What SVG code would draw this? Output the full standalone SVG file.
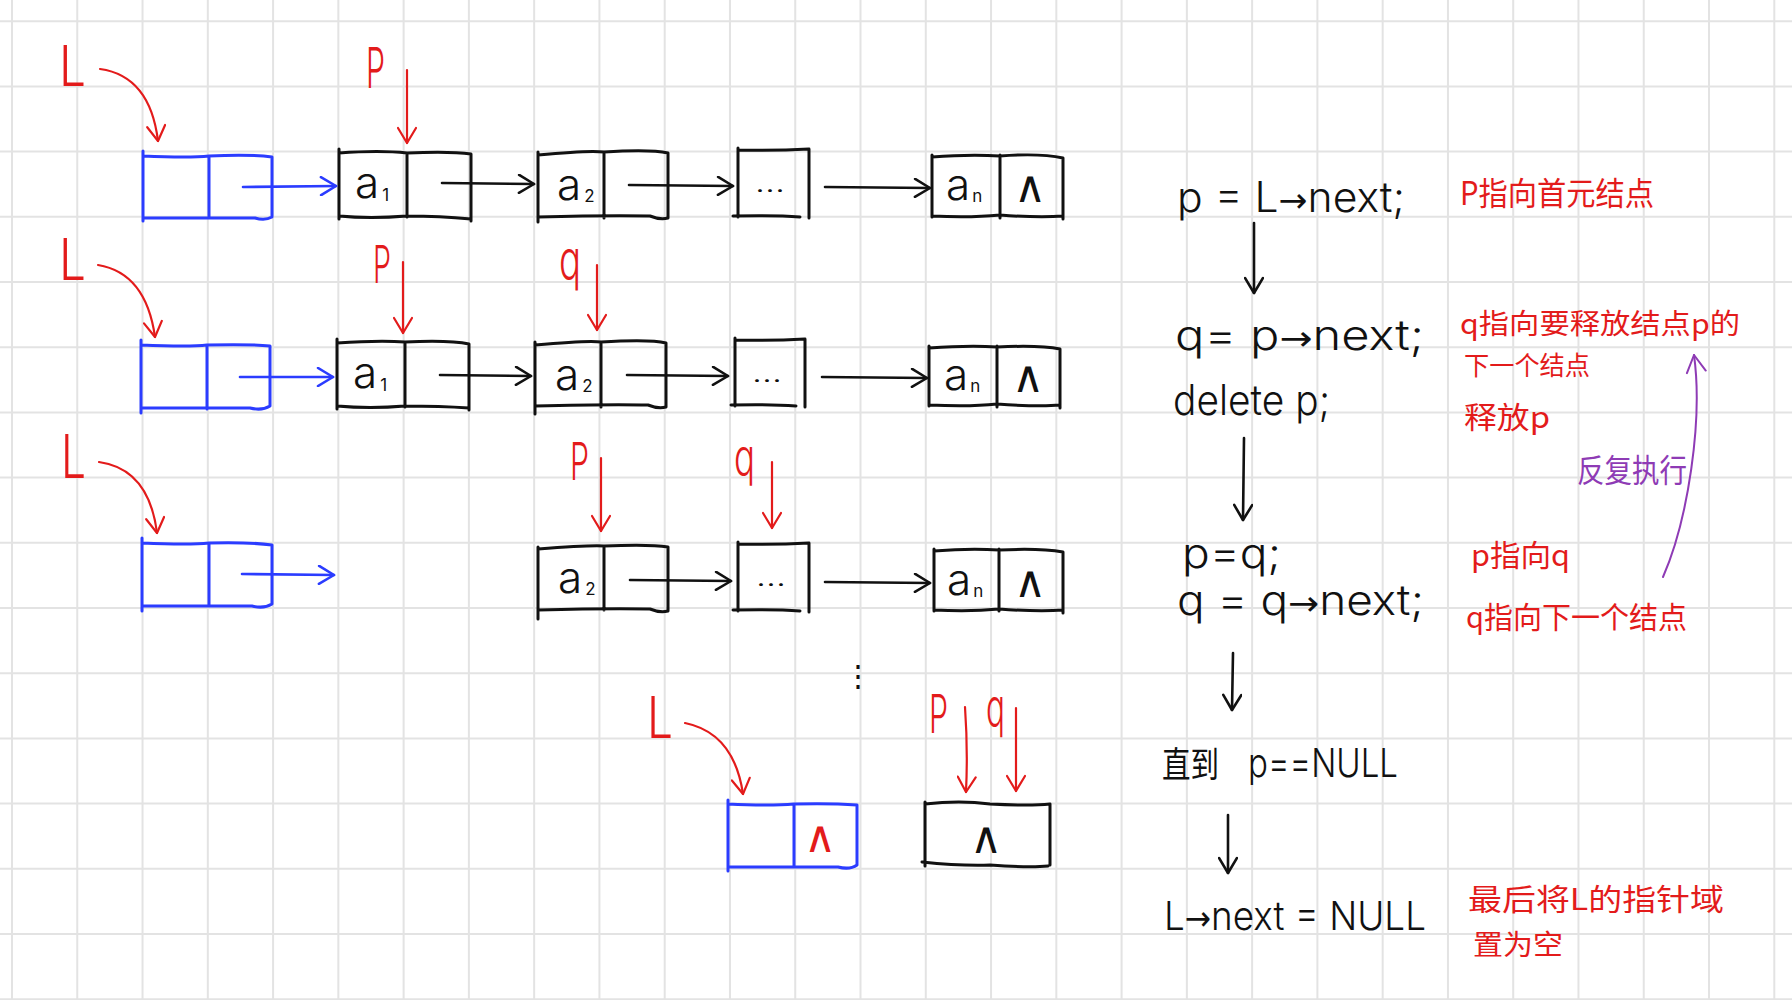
<svg xmlns="http://www.w3.org/2000/svg" width="1792" height="1000" viewBox="0 0 1792 1000">
<style>
.grid{stroke:#e3e3e3;stroke-width:2;fill:none}
.nb{stroke:#111;stroke-width:3;fill:none;stroke-linecap:round;stroke-linejoin:round}
.nbl{stroke:#2b3cff;stroke-width:3;fill:none;stroke-linecap:round;stroke-linejoin:round}
.cb{stroke:#111;stroke-width:2.6;fill:none;stroke-linecap:round;marker-end:url(#ab)}
.cbl{stroke:#2b3cff;stroke-width:2.6;fill:none;stroke-linecap:round;marker-end:url(#abl)}
.cr{stroke:#e31b1b;stroke-width:2.2;fill:none;stroke-linecap:round;marker-end:url(#ar)}
.cp{stroke:#8e3bb5;stroke-width:2;fill:none;stroke-linecap:round;marker-end:url(#ap)}
.hw{font-family:"Inter","Open Sans","Liberation Sans","Noto Sans CJK SC",sans-serif;font-weight:300}
.cjk{font-family:"Noto Sans CJK SC","Liberation Sans",sans-serif;font-weight:400}
.sym{font-family:"DejaVu Sans",sans-serif;font-weight:200}
.ar{font-family:"DejaVu Sans",sans-serif;font-weight:400;font-size:34px}
.blk{fill:#111}
.red{fill:#e31b1b}
.pur{fill:#8e3bb5}
.nt{font-family:"Inter","Open Sans","Liberation Sans",sans-serif;font-weight:300;font-size:44px;fill:#111}
.sub{font-size:17px;font-weight:400}
</style>
<defs>
<marker id="ab" viewBox="0 0 20 20" refX="17" refY="10" markerWidth="20" markerHeight="20" markerUnits="userSpaceOnUse" orient="auto"><path d="M2,1 L17,10 L2,19" fill="none" stroke="#111" stroke-width="2.6" stroke-linecap="round" stroke-linejoin="round"/></marker>
<marker id="abl" viewBox="0 0 20 20" refX="17" refY="10" markerWidth="20" markerHeight="20" markerUnits="userSpaceOnUse" orient="auto"><path d="M2,1 L17,10 L2,19" fill="none" stroke="#2b3cff" stroke-width="2.6" stroke-linecap="round" stroke-linejoin="round"/></marker>
<marker id="ar" viewBox="0 0 20 20" refX="17" refY="10" markerWidth="20" markerHeight="20" markerUnits="userSpaceOnUse" orient="auto"><path d="M2,1 L17,10 L2,19" fill="none" stroke="#e31b1b" stroke-width="2.2" stroke-linecap="round" stroke-linejoin="round"/></marker>
<marker id="ap" viewBox="0 0 22 22" refX="19" refY="11" markerWidth="22" markerHeight="22" markerUnits="userSpaceOnUse" orient="auto"><path d="M2,1.5 L19,11 L2,20.5" fill="none" stroke="#8e3bb5" stroke-width="2" stroke-linecap="round" stroke-linejoin="round"/></marker>
</defs>
<rect width="1792" height="1000" fill="#fff"/>
<path class="grid" d="M12,0V1000M77.27,0V1000M142.54,0V1000M207.81,0V1000M273.08,0V1000M338.35,0V1000M403.62,0V1000M468.89,0V1000M534.16,0V1000M599.43,0V1000M664.7,0V1000M729.97,0V1000M795.24,0V1000M860.51,0V1000M925.78,0V1000M991.05,0V1000M1056.32,0V1000M1121.59,0V1000M1186.86,0V1000M1252.13,0V1000M1317.4,0V1000M1382.67,0V1000M1447.94,0V1000M1513.21,0V1000M1578.48,0V1000M1643.75,0V1000M1709.02,0V1000M1774.29,0V1000M0,21.2H1792M0,86.4H1792M0,151.6H1792M0,216.8H1792M0,282H1792M0,347.2H1792M0,412.4H1792M0,477.6H1792M0,542.8H1792M0,608H1792M0,673.2H1792M0,738.4H1792M0,803.6H1792M0,868.8H1792M0,934H1792M0,999.2H1792"/>

<!-- Row 1 -->
<g id="r1-head">
<path class="nbl" d="M143,151V221M143,156Q190,158 209,156Q250,154 272,157V217Q265,221 255,218H143M209,156V218"/>
</g>
<g id="r1-a1">
<path class="nb" d="M339,149V219M339,153Q380,150 407,153Q450,151 471,154V221M339,216Q370,219 407,216Q440,216 471,219M407,153V217"/>
<text class="nt" x="355" y="198">a<tspan class="sub" dx="3" dy="3">1</tspan></text>
</g>
<g id="r1-a2">
<path class="nb" d="M538,152V222M538,155Q590,150 604,152Q650,149 668,153V218Q660,220 650,216Q610,215 538,217M604,153V218"/>
<text class="nt" x="557" y="200">a<tspan class="sub" dx="3" dy="2">2</tspan></text>
</g>
<g id="r1-dots">
<path class="nb" d="M738,148V217M738,150Q775,151 809,149V218M733,216Q775,215 800,217"/>
<text class="hw blk" x="755" y="192" font-size="26" textLength="30" lengthAdjust="spacingAndGlyphs">...</text>
</g>
<g id="r1-an">
<path class="nb" d="M932,155V217M932,157Q970,154 1000,156Q1040,153 1063,158V219M932,216Q970,218 1000,215Q1040,218 1063,216M1000,155V218"/>
<text class="nt" x="946" y="200">a<tspan class="sub" dx="2" dy="2">n</tspan></text>
<text class="sym blk" x="1030" y="202" font-size="44" text-anchor="middle">∧</text>
</g>

<!-- Row 2 -->
<g id="r2-head">
<path class="nbl" d="M141,340V413M141,345Q190,347 207,345Q250,344 270,346V406Q262,411 250,408H141M207,345V409"/>
</g>
<g id="r2-a1">
<path class="nb" d="M337,339V409M337,343Q380,340 405,342Q450,340 469,344V410M337,406Q370,409 405,406Q440,406 469,408M405,342V407"/>
<text class="nt" x="353" y="388">a<tspan class="sub" dx="3" dy="3">1</tspan></text>
</g>
<g id="r2-a2">
<path class="nb" d="M535,342V414M535,345Q590,340 601,342Q650,339 666,343V407Q658,409 648,405Q610,404 535,406M601,343V407"/>
<text class="nt" x="555" y="390">a<tspan class="sub" dx="3" dy="2">2</tspan></text>
</g>
<g id="r2-dots">
<path class="nb" d="M735,338V406M735,340Q770,341 805,339V407M731,405Q770,404 796,406"/>
<text class="hw blk" x="752" y="382" font-size="26" textLength="30" lengthAdjust="spacingAndGlyphs">...</text>
</g>
<g id="r2-an">
<path class="nb" d="M929,346V406M929,348Q970,345 997,347Q1040,345 1060,349V408M929,405Q970,407 997,404Q1040,407 1060,405M997,346V407"/>
<text class="nt" x="944" y="390">a<tspan class="sub" dx="2" dy="2">n</tspan></text>
<text class="sym blk" x="1028" y="392" font-size="44" text-anchor="middle">∧</text>
</g>

<!-- Row 3 -->
<g id="r3-head">
<path class="nbl" d="M142,538V611M142,543Q190,545 209,543Q250,542 272,545V604Q264,609 252,606H142M209,543V606"/>
</g>
<g id="r3-a2">
<path class="nb" d="M538,547V619M538,549Q590,545 604,546Q650,544 668,547V611Q660,613 650,609Q610,608 538,610M604,547V610"/>
<text class="nt" x="558" y="593">a<tspan class="sub" dx="3" dy="2">2</tspan></text>
</g>
<g id="r3-dots">
<path class="nb" d="M738,542V611M738,544Q775,545 809,543V612M733,610Q775,609 800,611"/>
<text class="hw blk" x="756" y="586" font-size="26" textLength="30" lengthAdjust="spacingAndGlyphs">...</text>
</g>
<g id="r3-an">
<path class="nb" d="M934,549V611M934,551Q970,548 999,550Q1040,548 1063,552V613M934,610Q970,612 999,609Q1040,612 1063,610M999,549V611"/>
<text class="nt" x="947" y="595">a<tspan class="sub" dx="2" dy="2">n</tspan></text>
<text class="sym blk" x="1030" y="597" font-size="44" text-anchor="middle">∧</text>
</g>

<text class="sym blk" x="858" y="686" font-size="30" text-anchor="middle">⋮</text>

<!-- Row 4 -->
<g id="r4-head">
<path class="nbl" d="M728,800V871M728,804Q770,806 794,804Q830,803 857,805V865Q850,870 838,867H728M794,804V867"/>
<text class="sym red" x="820" y="852" font-size="44" text-anchor="middle">∧</text>
</g>
<g id="r4-null">
<path class="nb" d="M925,802V866M925,804Q960,800 990,804Q1030,806 1050,804V865M922,862Q960,866 990,865Q1030,868 1048,866"/>
<text class="sym blk" x="986" y="853" font-size="44" text-anchor="middle">∧</text>
</g>

<!-- pointer labels -->
<g id="labels">
<text class="hw red" x="59" y="86" font-size="56" textLength="27" lengthAdjust="spacingAndGlyphs">L</text>
<text class="hw red" x="366" y="88" font-size="56" textLength="19" lengthAdjust="spacingAndGlyphs">P</text>
<text class="hw red" x="59" y="280" font-size="58" textLength="27" lengthAdjust="spacingAndGlyphs">L</text>
<text class="hw red" x="373" y="283" font-size="52" textLength="18" lengthAdjust="spacingAndGlyphs">P</text>
<text class="hw red" x="559" y="279" font-size="55" textLength="22" lengthAdjust="spacingAndGlyphs">q</text>
<text class="hw red" x="61" y="478" font-size="60" textLength="25" lengthAdjust="spacingAndGlyphs">L</text>
<text class="hw red" x="570" y="480" font-size="52" textLength="19" lengthAdjust="spacingAndGlyphs">P</text>
<text class="hw red" x="734" y="475" font-size="51" textLength="21" lengthAdjust="spacingAndGlyphs">q</text>
<text class="hw red" x="647" y="738" font-size="58" textLength="26" lengthAdjust="spacingAndGlyphs">L</text>
<text class="hw red" x="929" y="733" font-size="53" textLength="19" lengthAdjust="spacingAndGlyphs">P</text>
<text class="hw red" x="986" y="726" font-size="53" textLength="19" lengthAdjust="spacingAndGlyphs">q</text>
</g>

<!-- code -->
<g id="code">
<text class="hw blk" x="1177" y="212" font-size="42" textLength="228" lengthAdjust="spacingAndGlyphs">p = L<tspan class="ar">→</tspan>next;</text>
<text class="hw blk" x="1175" y="350" font-size="42" textLength="249" lengthAdjust="spacingAndGlyphs">q= p<tspan class="ar">→</tspan>next;</text>
<text class="hw blk" x="1173" y="415" font-size="42" textLength="157" lengthAdjust="spacingAndGlyphs">delete p;</text>
<text class="hw blk" x="1182" y="568" font-size="42" textLength="99" lengthAdjust="spacingAndGlyphs">p=q;</text>
<text class="hw blk" x="1177" y="615" font-size="42" textLength="247" lengthAdjust="spacingAndGlyphs">q = q<tspan class="ar">→</tspan>next;</text>
<text class="hw blk" x="1162" y="778" font-size="40"><tspan class="cjk" font-size="36" textLength="57" lengthAdjust="spacingAndGlyphs">直到</tspan><tspan x="1248" y="777" textLength="150" lengthAdjust="spacingAndGlyphs">p==NULL</tspan></text>
<text class="hw blk" x="1164" y="930" font-size="40" textLength="262" lengthAdjust="spacingAndGlyphs">L<tspan class="ar">→</tspan>next = NULL</text>
</g>

<!-- notes -->
<g id="notes">
<text class="cjk red" x="1460" y="205" font-size="32" textLength="194" lengthAdjust="spacingAndGlyphs">P指向首元结点</text>
<text class="cjk red" x="1460" y="334" font-size="28" textLength="280" lengthAdjust="spacingAndGlyphs">q指向要释放结点p的</text>
<text class="cjk red" x="1464" y="375" font-size="26" textLength="126" lengthAdjust="spacingAndGlyphs">下一个结点</text>
<text class="cjk red" x="1464" y="428" font-size="30" textLength="86" lengthAdjust="spacingAndGlyphs">释放p</text>
<text class="cjk pur" x="1577" y="482" font-size="32" textLength="110" lengthAdjust="spacingAndGlyphs">反复执行</text>
<text class="cjk red" x="1471" y="566" font-size="30" textLength="99" lengthAdjust="spacingAndGlyphs">p指向q</text>
<text class="cjk red" x="1466" y="628" font-size="30" textLength="221" lengthAdjust="spacingAndGlyphs">q指向下一个结点</text>
<text class="cjk red" x="1468" y="910" font-size="30" textLength="256" lengthAdjust="spacingAndGlyphs">最后将L的指针域</text>
<text class="cjk red" x="1473" y="955" font-size="28" textLength="90" lengthAdjust="spacingAndGlyphs">置为空</text>
</g>

<!-- connectors -->
<g id="connectors">
<path class="cbl" d="M243,187 L336,186"/>
<path class="cb" d="M442,183 L534,184"/>
<path class="cb" d="M629,185 L733,186"/>
<path class="cb" d="M825,187 L930,188"/>
<path class="cbl" d="M240,377 L333,377"/>
<path class="cb" d="M440,375 L531,376"/>
<path class="cb" d="M627,375 L728,376"/>
<path class="cb" d="M822,377 L927,378"/>
<path class="cbl" d="M242,574 L334,575"/>
<path class="cb" d="M630,580 L731,581"/>
<path class="cb" d="M825,582 L930,583"/>
<path class="cr" d="M100,69 Q150,76 158,141"/>
<path class="cr" d="M407,70 L407,143"/>
<path class="cr" d="M98,265 Q146,273 155,337"/>
<path class="cr" d="M403,262 L403,333"/>
<path class="cr" d="M597,265 L597,330"/>
<path class="cr" d="M99,462 Q149,469 157,533"/>
<path class="cr" d="M601,458 L601,531"/>
<path class="cr" d="M772,462 L772,528"/>
<path class="cr" d="M685,723 Q734,733 743,794"/>
<path class="cr" d="M965,707 Q968,750 966,792"/>
<path class="cr" d="M1016,708 L1016,791"/>
<path class="cb" d="M1254,223 L1254,293"/>
<path class="cb" d="M1244,438 L1243,520"/>
<path class="cb" d="M1233,653 L1232,710"/>
<path class="cb" d="M1228,815 L1228,873"/>
<path class="cp" d="M1663,577 C1688,520 1703,420 1694,355"/>
</g>
</svg>
